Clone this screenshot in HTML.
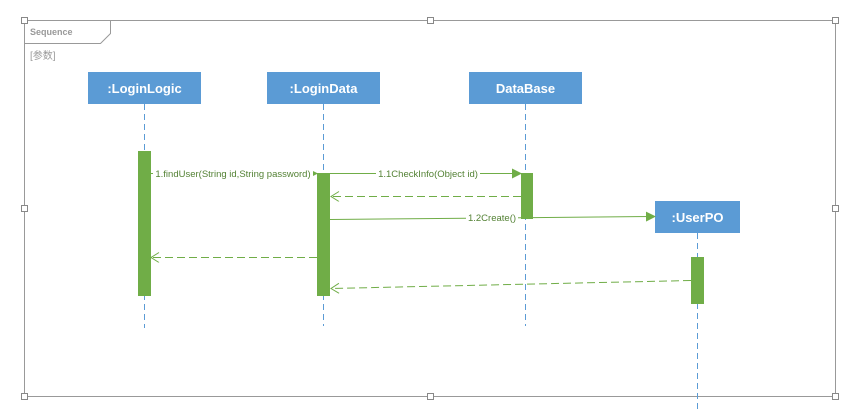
<!DOCTYPE html>
<html><head><meta charset="utf-8"><style>body{margin:0;background:#fff}</style></head><body>
<svg width="856" height="410" xmlns="http://www.w3.org/2000/svg" font-family="'Liberation Sans','Noto Sans CJK SC',sans-serif">
<defs>
<marker id="f" markerWidth="10" markerHeight="10" refX="9" refY="5" orient="auto" markerUnits="userSpaceOnUse"><path d="M0,0 L10,5 L0,10 z" fill="#70ad47"/></marker>
<marker id="o" markerWidth="12" markerHeight="12" refX="9" refY="5" orient="auto" markerUnits="userSpaceOnUse"><path d="M1,0 L9,5 L1,10" fill="none" stroke="#70ad47" stroke-width="1" stroke-dasharray="none"/></marker>
</defs>
<rect x="24.5" y="20.5" width="811" height="376" fill="none" stroke="#999"/>
<g fill="#fff" stroke="#888">
<rect x="21.5" y="17.5" width="6" height="6"/><rect x="427.5" y="17.5" width="6" height="6"/><rect x="832.5" y="17.5" width="6" height="6"/>
<rect x="21.5" y="205.5" width="6" height="6"/><rect x="832.5" y="205.5" width="6" height="6"/>
<rect x="21.5" y="393.5" width="6" height="6"/><rect x="427.5" y="393.5" width="6" height="6"/><rect x="832.5" y="393.5" width="6" height="6"/>
</g>
<path d="M24.5,43.5 H100.5 L110.5,33.5 V20.5" fill="none" stroke="#999"/>
<text x="30" y="35" font-size="9" font-weight="bold" fill="#999">Sequence</text>
<text x="30" y="59" font-size="10" fill="#999">[参数]</text>
<g stroke="#5b9bd5" stroke-dasharray="6,4">
<line x1="144.5" y1="104" x2="144.5" y2="328"/><line x1="323.5" y1="104" x2="323.5" y2="326"/>
<line x1="525.5" y1="104" x2="525.5" y2="326"/><line x1="697.5" y1="233" x2="697.5" y2="410"/>
</g>
<g fill="#5b9bd5"><rect x="88" y="72" width="113" height="32"/><rect x="267" y="72" width="113" height="32"/><rect x="469" y="72" width="113" height="32"/><rect x="655" y="201" width="85" height="32"/></g>
<g fill="#fff" font-size="13" font-weight="bold" text-anchor="middle">
<text x="144.5" y="93">:LoginLogic</text><text x="323.5" y="93">:LoginData</text><text x="525.5" y="93">DataBase</text><text x="697.5" y="222">:UserPO</text></g>
<g fill="#70ad47"><rect x="138" y="151" width="13" height="145"/><rect x="317" y="173" width="13" height="123"/><rect x="521" y="173" width="12" height="46"/><rect x="691" y="257" width="13" height="47"/></g>
<g stroke="#70ad47" stroke-width="1">
<line x1="151" y1="173.5" x2="317" y2="173.5" marker-end="url(#f)"/>
<line x1="330" y1="173.5" x2="521" y2="173.5" marker-end="url(#f)"/>
<line x1="330" y1="219.5" x2="655" y2="216.5" marker-end="url(#f)"/>
<line x1="521" y1="196.5" x2="331" y2="196.5" stroke-dasharray="8,4" marker-end="url(#o)"/>
<line x1="317" y1="257.5" x2="151" y2="257.5" stroke-dasharray="8,4" marker-end="url(#o)"/>
<line x1="691" y1="280.5" x2="331" y2="288.5" stroke-dasharray="8,4" marker-end="url(#o)"/>
</g>
<g font-size="9.5" fill="#548235" text-anchor="middle">
<rect x="153" y="167" width="160" height="12" fill="#fff"/><text x="233" y="177">1.findUser(String id,String password)</text>
<rect x="376" y="167" width="104" height="12" fill="#fff"/><text x="428" y="177">1.1CheckInfo(Object id)</text>
<rect x="466" y="212" width="52" height="12" fill="#fff"/><text x="492" y="221">1.2Create()</text>
</g>
</svg>
</body></html>
